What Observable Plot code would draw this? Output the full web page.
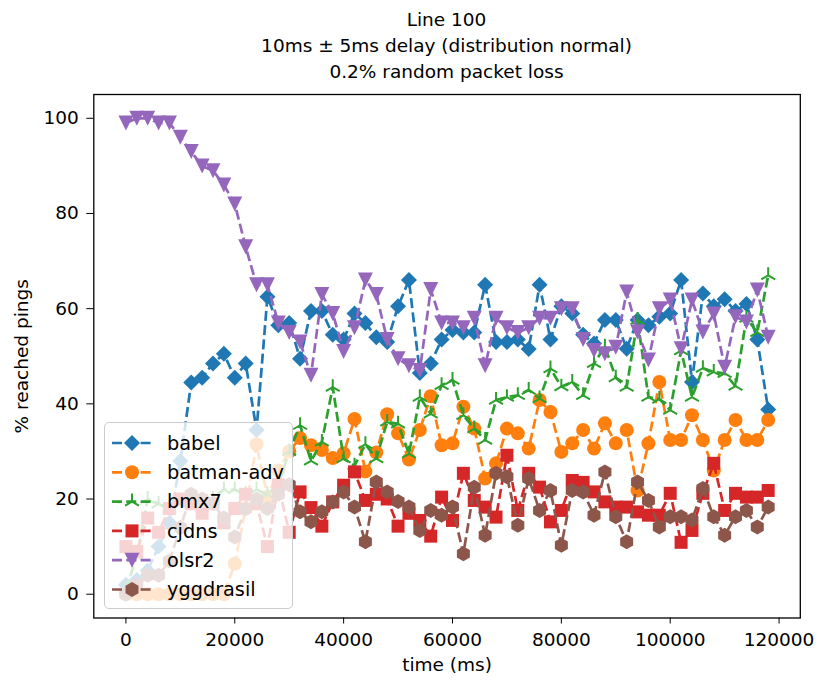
<!DOCTYPE html>
<html><head><meta charset="utf-8">
<script src="https://cdn.jsdelivr.net/npm/d3@7"></script>
<script src="https://cdn.jsdelivr.net/npm/@observablehq/plot@0.6"></script>
<style>
body{margin:0;background:#fff;font-family:"DejaVu Sans",sans-serif;color:#000;}
#wrap{position:relative;width:818px;height:682px;overflow:hidden;}
#title{box-sizing:border-box;width:818px;height:88px;padding:7px 18px 0 93px;text-align:center;font-size:18.5px;line-height:26px;}
#legend{position:absolute;left:104px;top:422px;width:189px;height:187px;box-sizing:border-box;border:1px solid #cccccc;border-radius:5px;background:rgba(255,255,255,0.8);}
#legend svg{display:block;}
</style></head><body>
<div id="wrap">
<div id="title">Line 100<br>10ms ± 5ms delay (distribution normal)<br>0.2% random packet loss</div>
<div id="chart"></div>
<div id="legend"></div>
</div>
<script>
const time = [0,2000,4000,6000,8000,10000,12000,14000,16000,18000,20000,22000,24000,26000,28000,30000,32000,34000,36000,38000,40000,42000,44000,46000,48000,50000,52000,54000,56000,58000,60000,62000,64000,66000,68000,70000,72000,74000,76000,78000,80000,82000,84000,86000,88000,90000,92000,94000,96000,98000,100000,102000,104000,106000,108000,110000,112000,114000,116000,118000];
const babel = [2,3,5,10,15,28,44.5,45.5,48.5,50.5,45.5,48.5,34.5,62.5,56.5,57,49.5,59.5,59.5,54.5,53.5,59,57,54,53,60.5,66,46.5,48.5,53.5,55.5,55,55,65,53,53,53.5,51.5,65,53.5,60.5,59,54.5,52.7,57.6,57.6,51.6,57.6,56.5,58.3,59,66,44.6,63.2,60.5,62,59.5,61,53.5,38.8];
const batmanAdv = [0,0,0,0,0,0,0,0,0,0,6.4,18,31.5,20.5,26,30,32.8,31.3,30.3,28.6,29.6,36.8,25.8,29.8,37.8,33.8,28.3,34.5,41.6,31.3,31.7,39.4,34.8,24.3,27.5,34.8,33.8,30.6,40.8,38.3,29.9,31.7,34.5,30.6,35.9,31.7,34.5,21.8,31.7,44.6,32.4,32.4,37.6,32.4,26,32.4,36.6,32.4,32.4,36.6];
const bmx7 = [1,8,20,19,18,19,20,19,20,22,22,21,22,21,23,30,35.5,28,32,43.5,28.5,27,31.5,28.5,36.2,35.8,29.5,41.4,37.9,43.9,45,37.6,34.8,32.4,40.8,41.4,41.8,42.9,41.1,47.4,43.6,44.6,41.8,48.5,52,45.5,43.5,57.6,41.4,41,38.7,51.2,41.4,47.5,46.7,46.4,43.7,58,55,67];
const cjdns = [10,9,16,13,18,20,19,17,19,15,18,21,19,10,23,13,21.5,18.2,14.3,19.4,22.9,25.7,19.7,21,20,14.3,17,15.5,12.2,20.4,15.5,25.4,19.7,18.3,16.2,29.2,17.6,25.4,22.5,15.2,17.6,23.9,23.5,21.5,19.4,18.3,18.3,17.3,16.6,16.6,21.2,10.9,13.4,21.2,27.5,17.6,21.2,20.4,20.4,21.8];
const olsr2 = [99,100,100,99,99,96,93,90,89,86,82,73,65,65,57,55,53,46,63,59,51,56,66,63,53.5,49.5,48,47,64,57,57,56,58,48,58,56,55,56,58,58,60,60,53.5,51.2,50.5,51.9,63.5,55.1,49.2,60,61.8,51.6,61.8,55.1,58.9,47.7,58.3,57.2,63.9,54];
const yggdrasil = [0,2,4,4,7,14,21,20,19,16,12,18,20,18,21,23,17.3,15.2,17.3,19.4,21.5,18.3,11,23.6,21.5,19.5,18.3,13.4,17.6,16.6,18.3,8.5,22.5,12.4,25.4,24.7,14.5,24.3,17.6,21.8,10.3,21.8,21.5,16.6,25.7,16.3,11,23.6,19.7,14.1,16.3,16.3,15.6,22.2,16.3,12.4,16.3,17.6,14.1,18.3];
const seriesNames = ["babel","batman-adv","bmx7","cjdns","olsr2","yggdrasil"];
const seriesValues = [babel,batmanAdv,bmx7,cjdns,olsr2,yggdrasil];
const colors = ["#1f77b4","#ff7f0e","#2ca02c","#d62728","#9467bd","#8c564b"];
const xTicks = [0,20000,40000,60000,80000,100000,120000];
const yTicks = [0,20,40,60,80,100];

// custom marker shapes (size = PI r^2)
const rad = s => Math.sqrt(s/Math.PI);
const symDiamond = {draw(c,s){const r=rad(s);c.moveTo(0,-r);c.lineTo(r,0);c.lineTo(0,r);c.lineTo(-r,0);c.closePath();}};
const symCircle = {draw(c,s){const r=rad(s);c.moveTo(r,0);c.arc(0,0,r,0,2*Math.PI);c.closePath();}};
const symTriUp = {draw(c,s){const r=rad(s);c.moveTo(0,0);c.lineTo(0,-r);c.moveTo(0,0);c.lineTo(-r*0.866,r*0.5);c.moveTo(0,0);c.lineTo(r*0.866,r*0.5);}};
const symSquare = {draw(c,s){const r=rad(s);c.rect(-r,-r,2*r,2*r);}};
const symTriDown = {draw(c,s){const r=rad(s);c.moveTo(0,r);c.lineTo(r,-r);c.lineTo(-r,-r);c.closePath();}};
const symHex = {draw(c,s){const r=rad(s);const a=r*0.866;c.moveTo(0,-r);c.lineTo(a,-r/2);c.lineTo(a,r/2);c.lineTo(0,r);c.lineTo(-a,r/2);c.lineTo(-a,-r/2);c.closePath();}};
const symbols = [symDiamond,symCircle,symTriUp,symSquare,symTriDown,symHex];
const radii = [8,7,8,6.5,7.5,7.5];
const strokeOnly = [false,false,true,false,false,false];

const marks = [];
seriesNames.forEach((name,k)=>{
  const data = time.map((t,i)=>({t, v: seriesValues[k][i]}));
  marks.push(Plot.line(data,{x:"t",y:"v",stroke:colors[k],strokeWidth:2.7,strokeDasharray:"10,4.3",strokeLinecap:"butt",strokeLinejoin:"round"}));
  if (strokeOnly[k]) {
    marks.push(Plot.dot(data,{x:"t",y:"v",symbol:symbols[k],r:radii[k],fill:"none",stroke:colors[k],strokeWidth:2}));
  } else {
    marks.push(Plot.dot(data,{x:"t",y:"v",symbol:symbols[k],r:radii[k],fill:colors[k],stroke:"none"}));
  }
});

const chart = Plot.plot({
  width:818, height:594,
  marginTop:6, marginBottom:64.5, marginLeft:93.3, marginRight:18.2,
  style:{fontFamily:"DejaVu Sans",fontSize:"18.5px",color:"#000",background:"#fff"},
  x:{domain:[-5900,123900]},
  y:{domain:[-5,105]},
  marks:[
    ...marks,
    Plot.frame({stroke:"#000",strokeWidth:1.3}),
    Plot.axisX({ticks:xTicks,tickFormat:d=>String(d),tickSize:6,tickPadding:9,fontSize:18.5,label:"time (ms)",labelAnchor:"center",labelArrow:"none",labelOffset:53}),
    Plot.axisY({ticks:yTicks,tickFormat:d=>String(d),tickSize:7,tickPadding:8,fontSize:18.5,label:"% reached pings",labelAnchor:"center",labelArrow:"none",labelOffset:79})
  ]
});
document.getElementById("chart").appendChild(chart);

// legend
const lg = d3.select("#legend").append("svg").attr("width",187).attr("height",185);
seriesNames.forEach((name,k)=>{
  const cy = 20 + 29.3*k;
  const g = lg.append("g").attr("transform",`translate(0,${cy})`);
  g.append("line").attr("x1",7).attr("x2",46).attr("y1",0).attr("y2",0)
    .attr("stroke",colors[k]).attr("stroke-width",2.7).attr("stroke-dasharray","10,4.3");
  const p = g.append("path").attr("transform","translate(27,0)")
    .attr("d",d3.symbol(symbols[k],Math.PI*radii[k]*radii[k])());
  if (strokeOnly[k]) p.attr("fill","none").attr("stroke",colors[k]).attr("stroke-width",2);
  else p.attr("fill",colors[k]);
  g.append("text").attr("x",62).attr("y",0).attr("dy","0.35em")
    .attr("font-family","DejaVu Sans").attr("font-size",19.3).attr("fill","#000").text(name);
});
</script>
</body></html>
